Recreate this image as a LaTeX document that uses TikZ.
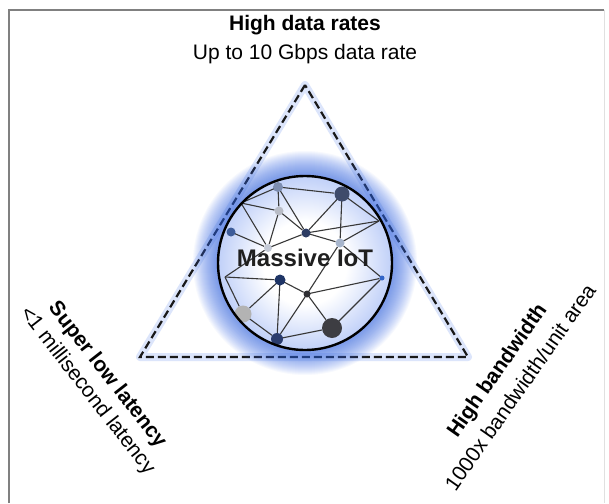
\documentclass[tikz,border=0pt]{standalone}
\usepackage{fontspec}
\setmainfont{Liberation Sans}
\definecolor{cA}{HTML}{7D8DB0}
\definecolor{cB}{HTML}{3F4B6B}
\definecolor{cC}{HTML}{B8BCC6}
\definecolor{cD}{HTML}{3D5C99}
\definecolor{cE}{HTML}{2C3C63}
\definecolor{cF}{HTML}{A7B5CC}
\definecolor{cG}{HTML}{C4CAD6}
\definecolor{cH}{HTML}{3265C8}
\definecolor{cI}{HTML}{1F3566}
\definecolor{cJ}{HTML}{2E2E33}
\definecolor{cK}{HTML}{B3B3B3}
\definecolor{cL}{HTML}{3D3D42}
\definecolor{cM}{HTML}{2A3C6E}
\definecolor{glowblue}{HTML}{3A6CEA}
\definecolor{framegray}{HTML}{808080}
\pgfdeclareradialshading{iotfill}{\pgfpoint{0bp}{0bp}}{color(0bp)=(white); color(12bp)=(white); color(25bp)=(glowblue!32); color(50bp)=(glowblue!32)}
\begin{document}
\begin{tikzpicture}[x=1pt,y=-1pt,
  boldtext/.style={font=\fontsize{21}{25}\selectfont\bfseries, inner sep=0pt},
  plaintext/.style={font=\fontsize{21}{25}\selectfont, inner sep=0pt},
  dot/.style={circle, inner sep=0pt, draw=none},
  link/.style={draw=black!78, line width=1.1pt},
  trianglehalo/.style={draw=glowblue!35, line width=8pt, line join=round, opacity=0.5},
  triangleline/.style={draw=black!90, line width=2.2pt, dash pattern=on 8pt off 4pt, line join=miter},
]
\useasboundingbox (0,0) rectangle (609,503);
\fill[white] (0,0) rectangle (609,503);
\draw[framegray, line width=2pt] (9,503) -- (9,10) -- (604,10);
\draw[black!12, line width=1pt] (604,10) -- (604,503);

% titles
\node[boldtext] (toptitle) at (305,25) {High data rates};
\node[plaintext] (topsub) at (305,54) {Up to 10 Gbps data rate};
\node[boldtext, rotate=-52] (leftA) at (107,375) {Super low latency};
\node[plaintext, rotate=-52] (leftB) at (87,391) {<1 millisecond latency};
\node[boldtext, rotate=55] (rightA) at (498,371) {High bandwidth};
\node[plaintext, rotate=55] (rightB) at (520,387) {1000x bandwidth/unit area};

% triangle
\coordinate (T1) at (305,85);
\coordinate (T2) at (140,357);
\coordinate (T3) at (468,357);
\draw[trianglehalo] (T1) -- (T2) -- (T3) -- cycle;
\draw[triangleline] (T1) -- (T2) -- (T3) -- cycle;

% circle glow
\coordinate (C) at (305,263);
\foreach \r in {0,...,25} {
  \fill[glowblue, opacity=0.04] (C) circle ({87+\r});
}
\shade[shading=iotfill] (C) circle (87);

% network
\coordinate (P1) at (241,203);
\coordinate (P2) at (379,221);
\coordinate (P4) at (225,277);
\node[dot, minimum size=10pt] (A) at (278,187) {};
\node[dot, minimum size=15pt] (B) at (342,194) {};
\node[dot, minimum size=9pt] (Cn) at (279,211) {};
\node[dot, minimum size=9pt] (D) at (231,232) {};
\node[dot, minimum size=9pt] (E) at (306,233) {};
\node[dot, minimum size=9pt] (F) at (340,243) {};
\node[dot, minimum size=8pt] (G) at (268,248) {};
\node[dot, minimum size=5pt] (H) at (382,278) {};
\node[dot, minimum size=11pt] (I) at (280,280) {};
\node[dot, minimum size=7pt] (J) at (307,294) {};
\node[dot, minimum size=17pt] (K) at (243,314) {};
\node[dot, minimum size=20pt] (L) at (332,328) {};
\node[dot, minimum size=12pt] (M) at (277,339) {};
\foreach \u/\v in {A/B, A/Cn, A/E, A/P1, P1/Cn, P1/G, Cn/G, Cn/E, D/G, G/E, B/E, B/F, B/P2, E/P2, E/F, F/P2,
  P4/I, P4/K, P4/G, I/K, I/M, I/J, J/F, J/H, J/M, J/L, K/M, M/L, L/H, H/F} {
  \draw[link] (\u.center) -- (\v);
}
\foreach \n/\c/\s in {A/cA/10, B/cB/15, Cn/cC/9, D/cD/9, E/cE/9, F/cF/9, G/cG/8, H/cH/5, I/cI/11, J/cJ/7, K/cK/17, L/cL/20, M/cM/12} {
  \fill[\c] (\n) circle ({\s/2});
}
\draw[black, line width=2.4pt] (C) circle (87);
\node[font=\fontsize{24}{28}\selectfont\bfseries, text=black!88, inner sep=1pt] (iot) at (305,258) {Massive IoT};
\end{tikzpicture}
\end{document}
